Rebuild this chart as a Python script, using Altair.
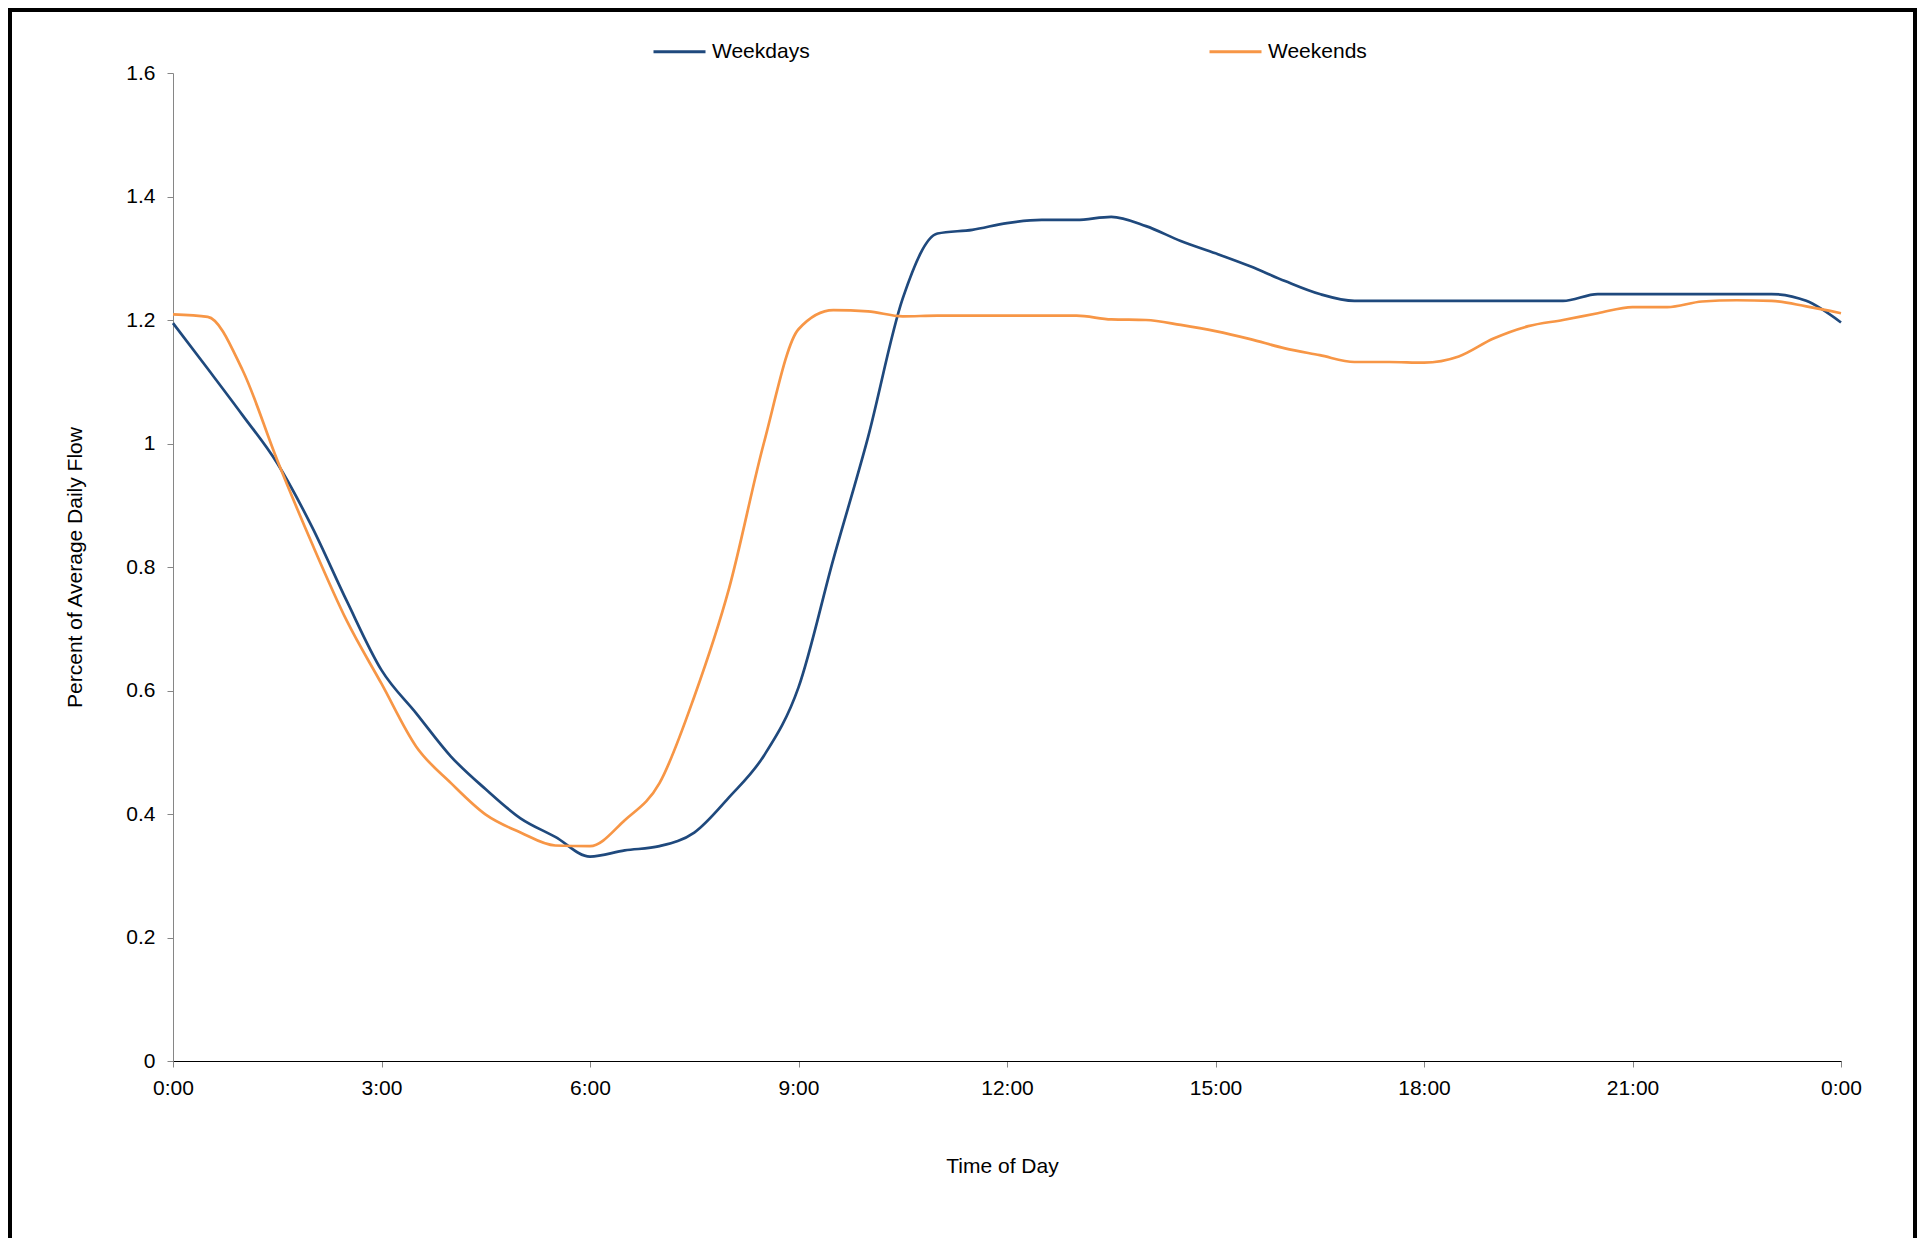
import altair as alt
import pandas as pd

# ---- data ----
hours = [i * 0.5 for i in range(49)]

weekdays = [1.195, 1.121, 1.046, 0.968, 0.865, 0.745, 0.633, 0.563, 0.493, 0.440,
            0.393, 0.363, 0.331, 0.341, 0.348, 0.370, 0.427, 0.494, 0.605, 0.812,
            1.010, 1.235, 1.340, 1.346, 1.357, 1.362, 1.362, 1.367, 1.352, 1.328,
            1.308, 1.287, 1.263, 1.242, 1.231, 1.231, 1.231, 1.231, 1.231, 1.231,
            1.231, 1.242, 1.242, 1.242, 1.242, 1.242, 1.242, 1.231, 1.196]

weekends = [1.209, 1.205, 1.119, 0.973, 0.838, 0.713, 0.611, 0.509, 0.450, 0.399,
            0.370, 0.349, 0.348, 0.390, 0.450, 0.590, 0.765, 1.000, 1.185, 1.216,
            1.214, 1.206, 1.207, 1.207, 1.207, 1.207, 1.207, 1.201, 1.200, 1.192,
            1.182, 1.169, 1.154, 1.143, 1.132, 1.132, 1.131, 1.141, 1.170, 1.190,
            1.200, 1.211, 1.221, 1.221, 1.230, 1.232, 1.231, 1.222, 1.211]

series_names = ["Weekdays", "Weekends"]
series_colors = ["#1F497D", "#F79646"]

x_tick_values = [0, 3, 6, 9, 12, 15, 18, 21, 24]
x_tick_labels = ["0:00", "3:00", "6:00", "9:00", "12:00", "15:00", "18:00", "21:00", "0:00"]
y_tick_values = [0, 0.2, 0.4, 0.6, 0.8, 1.0, 1.2, 1.4, 1.6]

df = pd.DataFrame({
    "hour": hours * 2,
    "value": weekdays + weekends,
    "series": [series_names[0]] * len(hours) + [series_names[1]] * len(hours),
})

label_expr = "[{}][indexof([{}], datum.value)]".format(
    ",".join("'{}'".format(s) for s in x_tick_labels),
    ",".join(str(v) for v in x_tick_values),
)

FONT = "Liberation Sans"
W, H = 1668, 988
PAD_LEFT, PAD_TOP, PAD_RIGHT, PAD_BOTTOM = 165, 65, 76, 177
CANVAS_BOTTOM = H + PAD_BOTTOM  # in plot coordinates

lines = alt.Chart(df).mark_line(strokeWidth=2.7, interpolate="monotone").encode(
    x=alt.X("hour:Q",
            scale=alt.Scale(domain=[0, 24], nice=False, zero=False),
            axis=alt.Axis(values=x_tick_values, labelExpr=label_expr,
                          title="Time of Day", titleX=829, titleY=105,
                          titleBaseline="middle", titleFontSize=21,
                          titleFontWeight="normal", titleColor="black",
                          labelFontSize=21, labelColor="black",
                          labelPadding=10, tickSize=6, tickColor="#868686",
                          domainColor="black", domainWidth=1.2, grid=False,
                          labelFlush=False, labelOverlap=False)),
    y=alt.Y("value:Q",
            scale=alt.Scale(domain=[0, 1.6], nice=False),
            axis=alt.Axis(values=y_tick_values, format="~g",
                          title="Percent of Average Daily Flow",
                          titleX=-98, titleY=H / 2, titleAngle=-90,
                          titleAlign="center", titleBaseline="middle",
                          titleFontSize=21, titleFontWeight="normal",
                          titleColor="black",
                          labelFontSize=21, labelColor="black",
                          labelPadding=12, tickSize=6, tickColor="#868686",
                          domainColor="#868686", grid=False,
                          labelFlush=False, labelOverlap=False)),
    color=alt.Color("series:N",
                    scale=alt.Scale(domain=series_names, range=series_colors),
                    legend=alt.Legend(orient="none", legendX=479, legendY=-49,
                                      direction="horizontal", columns=2,
                                      columnPadding=393, title=None,
                                      symbolType="stroke", symbolSize=2704,
                                      symbolStrokeWidth=3, labelFontSize=21,
                                      labelColor="black", labelOffset=5,
                                      labelFont=FONT)),
)

# decorative outer frame (open at the bottom), drawn as thin filled bars
one = alt.Data(values=[{"a": 1}])
bar = dict(color="black", strokeWidth=0)
left_edge = alt.Chart(one).mark_rect(**bar).encode(
    x=alt.value(-165), x2=alt.value(-161),
    y=alt.value(-65), y2=alt.value(CANVAS_BOTTOM))
right_edge = alt.Chart(one).mark_rect(**bar).encode(
    x=alt.value(1740), x2=alt.value(1744),
    y=alt.value(-65), y2=alt.value(CANVAS_BOTTOM))
top_edge = alt.Chart(one).mark_rect(**bar).encode(
    x=alt.value(-165), x2=alt.value(1744),
    y=alt.value(-65), y2=alt.value(-61))

chart = alt.layer(lines, left_edge, right_edge, top_edge).properties(
    width=W, height=H,
    autosize=alt.AutoSizeParams(type="none"),
    padding={"left": PAD_LEFT, "top": PAD_TOP, "right": PAD_RIGHT, "bottom": PAD_BOTTOM},
).configure(font=FONT).configure_view(stroke=None)

chart.save("out.html", embed_options={"renderer": "svg", "actions": False})
